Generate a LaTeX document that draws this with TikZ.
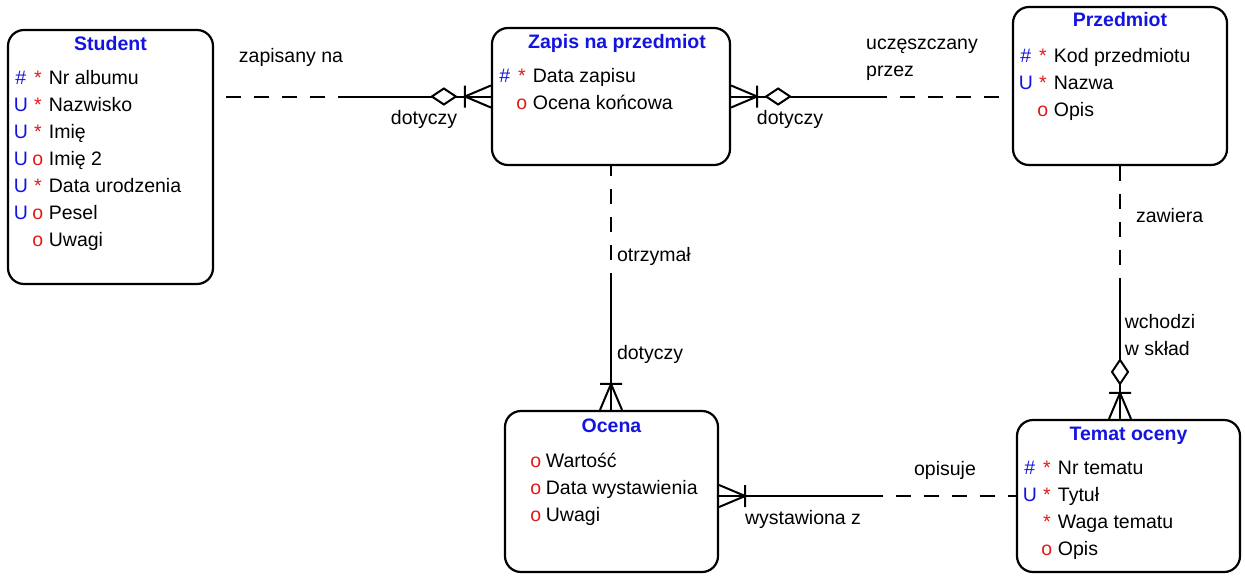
\documentclass[tikz,border=0pt]{standalone}
\usepackage{fontspec}
\setmainfont{Liberation Sans}
\usetikzlibrary{calc}
\definecolor{keyblue}{RGB}{20,20,225}
\definecolor{optred}{RGB}{225,25,25}
\newcommand{\hsh}{\textcolor{keyblue}{\#}}
\newcommand{\unq}{\textcolor{keyblue}{U}}
\newcommand{\req}{\textcolor{optred}{*}}
\newcommand{\opt}{\textcolor{optred}{o}}
\newcommand{\non}{}
\tikzset{
  crowfoot/.pic={\draw (-26,0) -- (0,-11) (-26,0) -- (0,11) (-26,-11) -- (-26,11);},
  nontrans/.pic={\draw[fill=white] (-35,0) -- (-47,-8) -- (-59,0) -- (-47,8) -- cycle;}
}

\begin{document}
\begin{tikzpicture}[x=0.5pt,y=-0.5pt,font=\fontsize{9.75}{13.5}\selectfont]
    \tikzstyle{every path}=[line width=1pt]
    \tikzstyle{entity}=[draw,line width=1.1pt,rounded corners=8pt,inner sep=0pt]
    \tikzstyle{title}=[font=\fontsize{9.75}{13.5}\selectfont\bfseries,text=keyblue,anchor=base,inner sep=0pt]
    \tikzstyle{attr}=[anchor=base west,inner sep=0pt]
    \tikzstyle{tag}=[anchor=base,inner sep=0pt]
    \tikzstyle{rel}=[inner sep=0pt]
    \tikzstyle{opt line}=[dash pattern=on 7.5pt off 6.5pt]
    \useasboundingbox (0,0) rectangle (1245,578);

    \node[entity,minimum width=102.5pt,minimum height=127pt](student) at (110.5,157){};
    \node[entity,minimum width=119pt,minimum height=68.5pt](zapis) at (611,96.5){};
    \node[entity,minimum width=107pt,minimum height=79pt](przedmiot) at (1120,86){};
    \node[entity,minimum width=106.5pt,minimum height=80.5pt](ocena) at (611.5,491.5){};
    \node[entity,minimum width=111.5pt,minimum height=76pt](temat) at (1128.5,496){};

    \node[title](student-t) at ($(student.north)+(0,22)$){Student};
    \node[title](zapis-t) at ($(zapis.north)+(6,22)$){Zapis na przedmiot};
    \node[title](przedmiot-t) at ($(przedmiot.north)+(0,21)$){Przedmiot};
    \node[title](ocena-t) at ($(ocena.north)+(0,23)$){Ocena};
    \node[title](temat-t) at ($(temat.north)+(0,22)$){Temat oceny};

    \foreach \a/\b/\t [count=\i from 0] in {\hsh/\req/Nr albumu,\unq/\req/Nazwisko,\unq/\req/Imię,\unq/\opt/Imię 2,\unq/\req/Data urodzenia,\unq/\opt/Pesel,\non/\opt/Uwagi}{
        \node[tag](student-a\i) at ($(student.north west)+(14,56+27*\i)$){\a};
        \node[tag](student-b\i) at ($(student.north west)+(31,56+27*\i)$){\b};
        \node[attr](student-\i) at ($(student.north west)+(41,56+27*\i)$){\t};
    }
    \foreach \a/\b/\t [count=\i from 0] in {\hsh/\req/Data zapisu,\non/\opt/Ocena końcowa}{
        \node[tag](zapis-a\i) at ($(zapis.north west)+(14,56+27*\i)$){\a};
        \node[tag](zapis-b\i) at ($(zapis.north west)+(31,56+27*\i)$){\b};
        \node[attr](zapis-\i) at ($(zapis.north west)+(41,56+27*\i)$){\t};
    }
    \foreach \a/\b/\t [count=\i from 0] in {\hsh/\req/Kod przedmiotu,\unq/\req/Nazwa,\non/\opt/Opis}{
        \node[tag](przedmiot-a\i) at ($(przedmiot.north west)+(14,57+27*\i)$){\a};
        \node[tag](przedmiot-b\i) at ($(przedmiot.north west)+(31,57+27*\i)$){\b};
        \node[attr](przedmiot-\i) at ($(przedmiot.north west)+(41,57+27*\i)$){\t};
    }
    \foreach \a/\b/\t [count=\i from 0] in {\non/\opt/Wartość,\non/\opt/Data wystawienia,\non/\opt/Uwagi}{
        \node[tag](ocena-a\i) at ($(ocena.north west)+(14,58+27*\i)$){\a};
        \node[tag](ocena-b\i) at ($(ocena.north west)+(32,58+27*\i)$){\b};
        \node[attr](ocena-\i) at ($(ocena.north west)+(41,58+27*\i)$){\t};
    }
    \foreach \a/\b/\t [count=\i from 0] in {\hsh/\req/Nr tematu,\unq/\req/Tytuł,\non/\req/Waga tematu,\non/\opt/Opis}{
        \node[tag](temat-a\i) at ($(temat.north west)+(14,56+27*\i)$){\a};
        \node[tag](temat-b\i) at ($(temat.north west)+(31,56+27*\i)$){\b};
        \node[attr](temat-\i) at ($(temat.north west)+(41,56+27*\i)$){\t};
    }

    \coordinate (sz-a) at (zapis.west -| student.east);
    \coordinate (sz-m) at ($(sz-a)!0.5!(zapis.west)$);
    \draw[opt line] (sz-m) -- (sz-a);
    \draw (sz-m) -- (zapis.west);
    \pic at (zapis.west) {nontrans};
    \pic at (zapis.west) {crowfoot};

    \coordinate (zp-b) at (zapis.east -| przedmiot.west);
    \coordinate (zp-m) at ($(zapis.east)!0.5!(zp-b)$);
    \draw (zapis.east) -- (zp-m);
    \draw[opt line] (zp-m) -- (zp-b);
    \pic[rotate=180] at (zapis.east) {nontrans};
    \pic[rotate=180] at (zapis.east) {crowfoot};

    \coordinate (zo-b) at (zapis.south |- ocena.north);
    \coordinate (zo-m) at ($(zapis.south)!0.5!(zo-b)$);
    \draw[opt line] (zo-m) -- (zapis.south);
    \draw (zo-m) -- (zo-b);
    \pic[rotate=-90] at (zo-b) {crowfoot};

    \coordinate (pt-b) at (przedmiot.south |- temat.north);
    \coordinate (pt-m) at ($(przedmiot.south)!0.5!(pt-b)$);
    \draw[opt line] (pt-m) -- (przedmiot.south);
    \draw (pt-m) -- (pt-b);
    \pic[rotate=-90] at (pt-b) {nontrans};
    \pic[rotate=-90] at (pt-b) {crowfoot};

    \coordinate (ot-a) at (ocena.east |- temat.west);
    \coordinate (ot-m) at ($(ot-a)!0.5!(temat.west)$);
    \draw (ot-a) -- (ot-m);
    \draw[opt line] (ot-m) -- (temat.west);
    \pic[rotate=180] at (ot-a) {crowfoot};

    \node[rel](l-zapisany) at (291,57){zapisany na};
    \node[rel](l-dot1) at (424,119){dotyczy};
    \node[rel](l-dot2) at (790,119){dotyczy};
    \node[rel,align=left](l-uczesz) at (922,59.5){uczęszczany\\przez};
    \node[rel,anchor=west](l-otrz) at (616,256){otrzymał};
    \node[rel,anchor=west](l-dot3) at (616,354){dotyczy};
    \node[rel,anchor=west](l-zaw) at (1135,216){zawiera};
    \node[rel,align=left](l-wch) at (1160,335.5){wchodzi\\w skład};
    \node[rel](l-opis) at (945,470){opisuje};
    \node[rel](l-wyst) at (803,519){wystawiona z};
\end{tikzpicture}
\end{document}
